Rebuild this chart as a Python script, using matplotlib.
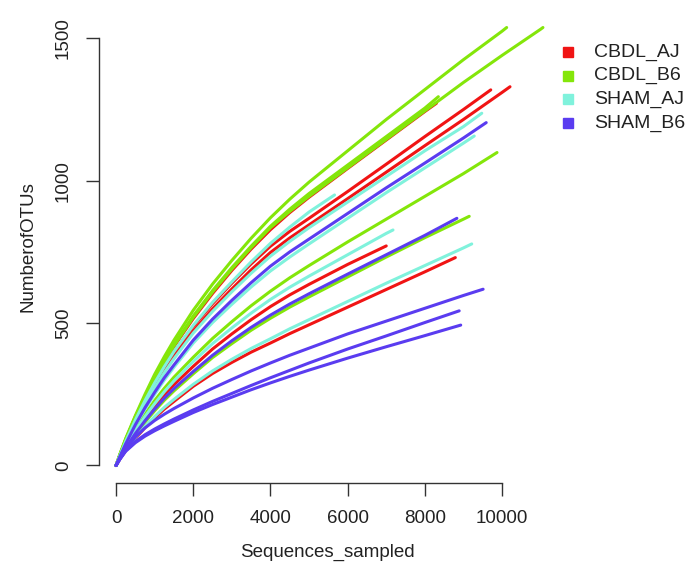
import matplotlib
matplotlib.use("Agg")
import matplotlib.pyplot as plt
from matplotlib.lines import Line2D

plt.rcParams['font.family'] = ['Liberation Sans', 'DejaVu Sans']

# rarefaction depths shared by all samples (cut at each sample's own depth)
depths = [0, 100, 250, 500, 750, 1000, 1250, 1500, 2000, 2500, 3000, 3500,
          4000, 4500, 5000, 6000, 7000, 8000, 9000, 10000, 11000]

groups = ['CBDL_AJ', 'CBDL_B6', 'SHAM_AJ', 'SHAM_B6']
group_colors = ['#F01414', '#84E60A', '#80F2DC', '#5A3CF0']

# OTU counts read at the depths above, then the final (depth, OTUs) point
cbdl_aj = [
    ([0, 37, 90, 168, 238, 302, 362, 418, 516, 604, 685, 760, 828, 888, 942, 1043, 1143, 1243], (8300, 1272)),
    ([0, 35, 85, 160, 228, 290, 346, 398, 488, 568, 640, 708, 770, 822, 868, 962, 1058, 1155, 1250], (9708, 1319)),
    ([0, 34, 82, 155, 220, 280, 335, 385, 472, 550, 620, 687, 748, 799, 845, 937, 1030, 1123, 1215, 1310], (10207, 1330)),
    ([0, 28, 64, 117, 165, 208, 248, 284, 348, 409, 462, 512, 558, 599, 636, 706], (7000, 771)),
    ([0, 23, 53, 95, 133, 167, 198, 225, 278, 323, 362, 398, 430, 463, 494, 556, 618, 680], (8790, 730)),
]
cbdl_b6 = [
    ([0, 40, 95, 175, 250, 320, 382, 440, 545, 637, 720, 798, 870, 935, 995, 1105, 1215, 1320, 1425, 1525], (10120, 1538)),
    ([0, 38, 90, 170, 240, 305, 364, 420, 520, 609, 690, 765, 835, 892, 945, 1045, 1145, 1245, 1345, 1440, 1532], (11060, 1538)),
    ([0, 38, 92, 172, 243, 308, 368, 425, 525, 614, 695, 770, 840, 900, 955, 1055, 1155, 1255], (8350, 1295)),
    ([0, 30, 70, 128, 180, 228, 271, 310, 380, 446, 505, 561, 612, 659, 702, 785, 865, 945, 1025], (9870, 1099)),
    ([0, 26, 60, 108, 152, 192, 229, 262, 322, 379, 428, 475, 517, 556, 592, 662, 732, 800, 865], (9150, 875)),
]
sham_aj = [
    ([0, 35, 85, 160, 228, 290, 347, 400, 492, 573, 645, 715, 780, 837, 890], (5660, 950)),
    ([0, 33, 80, 152, 215, 272, 326, 375, 465, 541, 610, 675, 735, 787, 835, 925, 1015, 1105, 1190], (9475, 1237)),
    ([0, 32, 75, 140, 198, 250, 300, 345, 430, 502, 566, 627, 683, 732, 778, 868, 958, 1045, 1132], (9280, 1157)),
    ([0, 29, 67, 122, 172, 217, 259, 297, 365, 428, 483, 535, 583, 626, 665, 740, 815], (7175, 827)),
    ([0, 24, 55, 98, 137, 172, 204, 232, 285, 332, 373, 411, 445, 480, 512, 576, 640, 702, 764], (9215, 778)),
]
sham_b6 = [
    ([0, 32, 76, 143, 203, 257, 308, 353, 440, 514, 580, 642, 700, 750, 795, 885, 975, 1062, 1150], (9590, 1204)),
    ([0, 27, 62, 112, 157, 198, 236, 270, 330, 387, 438, 485, 528, 567, 603, 672, 740, 808], (8830, 868)),
    ([0, 25, 58, 100, 132, 158, 180, 200, 237, 271, 302, 332, 360, 387, 412, 462, 507, 552, 597], (9510, 619)),
    ([0, 23, 52, 84, 108, 128, 146, 163, 195, 225, 253, 281, 308, 334, 360, 409, 455, 502], (8890, 543)),
    ([0, 22, 50, 80, 103, 122, 139, 155, 186, 214, 240, 266, 290, 313, 335, 377, 417, 456], (8930, 493)),
]

fig = plt.figure(figsize=(7.0, 5.83), dpi=100)
ax = fig.add_axes([99 / 700, 100 / 583, 461 / 700, 473 / 583])

for curves, color in zip([cbdl_aj, cbdl_b6, sham_aj, sham_b6], group_colors):
    for otus, (end_x, end_y) in curves:
        xs = depths[:len(otus)] + [end_x]
        ys = otus + [end_y]
        ax.plot(xs, ys, color=color, lw=2.2, solid_capstyle='round',
                solid_joinstyle='round')

ax.set_xlim(-442, 11502)
ax.set_ylim(-61.5, 1599.5)

# R-style axes: only left/bottom, spanning the tick range
for side in ['top', 'right']:
    ax.spines[side].set_visible(False)
ax.spines['left'].set_bounds(0, 1500)
ax.spines['bottom'].set_bounds(0, 10000)
for side in ['left', 'bottom']:
    ax.spines[side].set_color('#333333')
    ax.spines[side].set_linewidth(1.0)

ax.set_xticks([0, 2000, 4000, 6000, 8000, 10000])
ax.set_yticks([0, 500, 1000, 1500])
ax.tick_params(axis='both', direction='out', length=9.5, width=1.0,
               color='#333333', labelsize=13.5, labelcolor='#222222')
ax.tick_params(axis='x', pad=10)
ax.tick_params(axis='y', pad=10)
for lab in ax.get_yticklabels():
    lab.set_rotation(90)
    lab.set_va('center')

ax.set_xlabel('Sequences_sampled', fontsize=13.5, color='#222222')
ax.set_ylabel('NumberofOTUs', fontsize=13.5, color='#222222')
ax.xaxis.set_label_coords((327 - 99) / 461, -(544 - 483) / 473)
ax.yaxis.set_label_coords(-(99 - 36) / 461, 0.5)

# legend placed to the right of the plot, R-style square symbols
for i, (name, color) in enumerate(zip(groups, group_colors)):
    y = 1 - (52 + i * 23.7) / 583
    fig.add_artist(Line2D([568 / 700], [y], marker='s', markersize=6.5,
                          color=color, linestyle='none',
                          transform=fig.transFigure))
    fig.text(594 / 700, y, name, fontsize=14, va='center', color='#222222')

fig.savefig('out.png', dpi=100)
